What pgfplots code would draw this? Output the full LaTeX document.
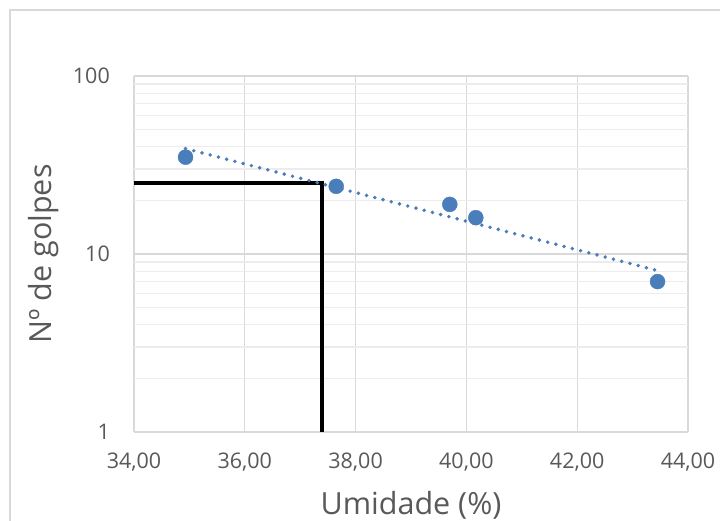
\documentclass[border=0pt]{standalone}
\usepackage{pgfplots}
\pgfplotsset{compat=1.18}
\usepackage{fontspec}
\setmainfont{Open Sans}
\definecolor{gridc}{RGB}{217,217,217}
\definecolor{minorgridc}{RGB}{236,236,236}
\definecolor{txt}{RGB}{89,89,89}
\definecolor{pts}{RGB}{74,126,187}
\begin{document}
\begin{tikzpicture}[x=1pt,y=1pt]
\useasboundingbox (0,0) rectangle (720,521);
\draw[gridc, line width=1.3pt] (10,0) -- (10,511) -- (720,511);
\begin{axis}[
  at={(134pt,89pt)}, anchor=south west,
  scale only axis, width=554pt, height=356pt,
  ymode=log, xmin=34, xmax=44, ymin=1, ymax=100,
  xtick={34,36,38,40,42,44},
  xticklabels={{34,00},{36,00},{38,00},{40,00},{42,00},{44,00}},
  ytick={1,10,100}, yticklabels={1,10,100},
  minor ytick={2,3,4,5,6,7,8,9,20,30,40,50,60,70,80,90},
  grid=both,
  major grid style={gridc, line width=1.3pt},
  minor grid style={minorgridc, line width=1.3pt},
  axis line style={draw=none}, major tick length=0pt, minor tick length=0pt,
  tick label style={font=\fontsize{21.5}{26}\selectfont, text=txt},
  xticklabel style={anchor=center, yshift=-30pt},
  yticklabel style={anchor=east, inner sep=0pt, xshift=-24pt},
  xlabel={Umidade (\%)}, ylabel={Nº de golpes},
  label style={font=\fontsize{30.5}{36}\selectfont, text=txt},
  xlabel style={at={(axis description cs:0.5,-0.205)}, anchor=center},
  ylabel style={at={(axis description cs:-0.163,0.5)}, anchor=center},
]
\addplot[black, line width=3.6pt, line join=miter] coordinates {(34,25) (37.39,25) (37.39,1)};
\addplot[pts, line width=3.9pt, line cap=round, dash pattern=on 0pt off 8.5pt] coordinates {(34.93,39.1) (43.45,8.07)};
\addplot[only marks, mark=*, mark size=7.5pt, mark options={fill=pts, draw=pts}] coordinates {(34.93,35) (37.65,24) (39.70,19) (40.17,16) (43.45,7)};
\end{axis}
\end{tikzpicture}
\end{document}
